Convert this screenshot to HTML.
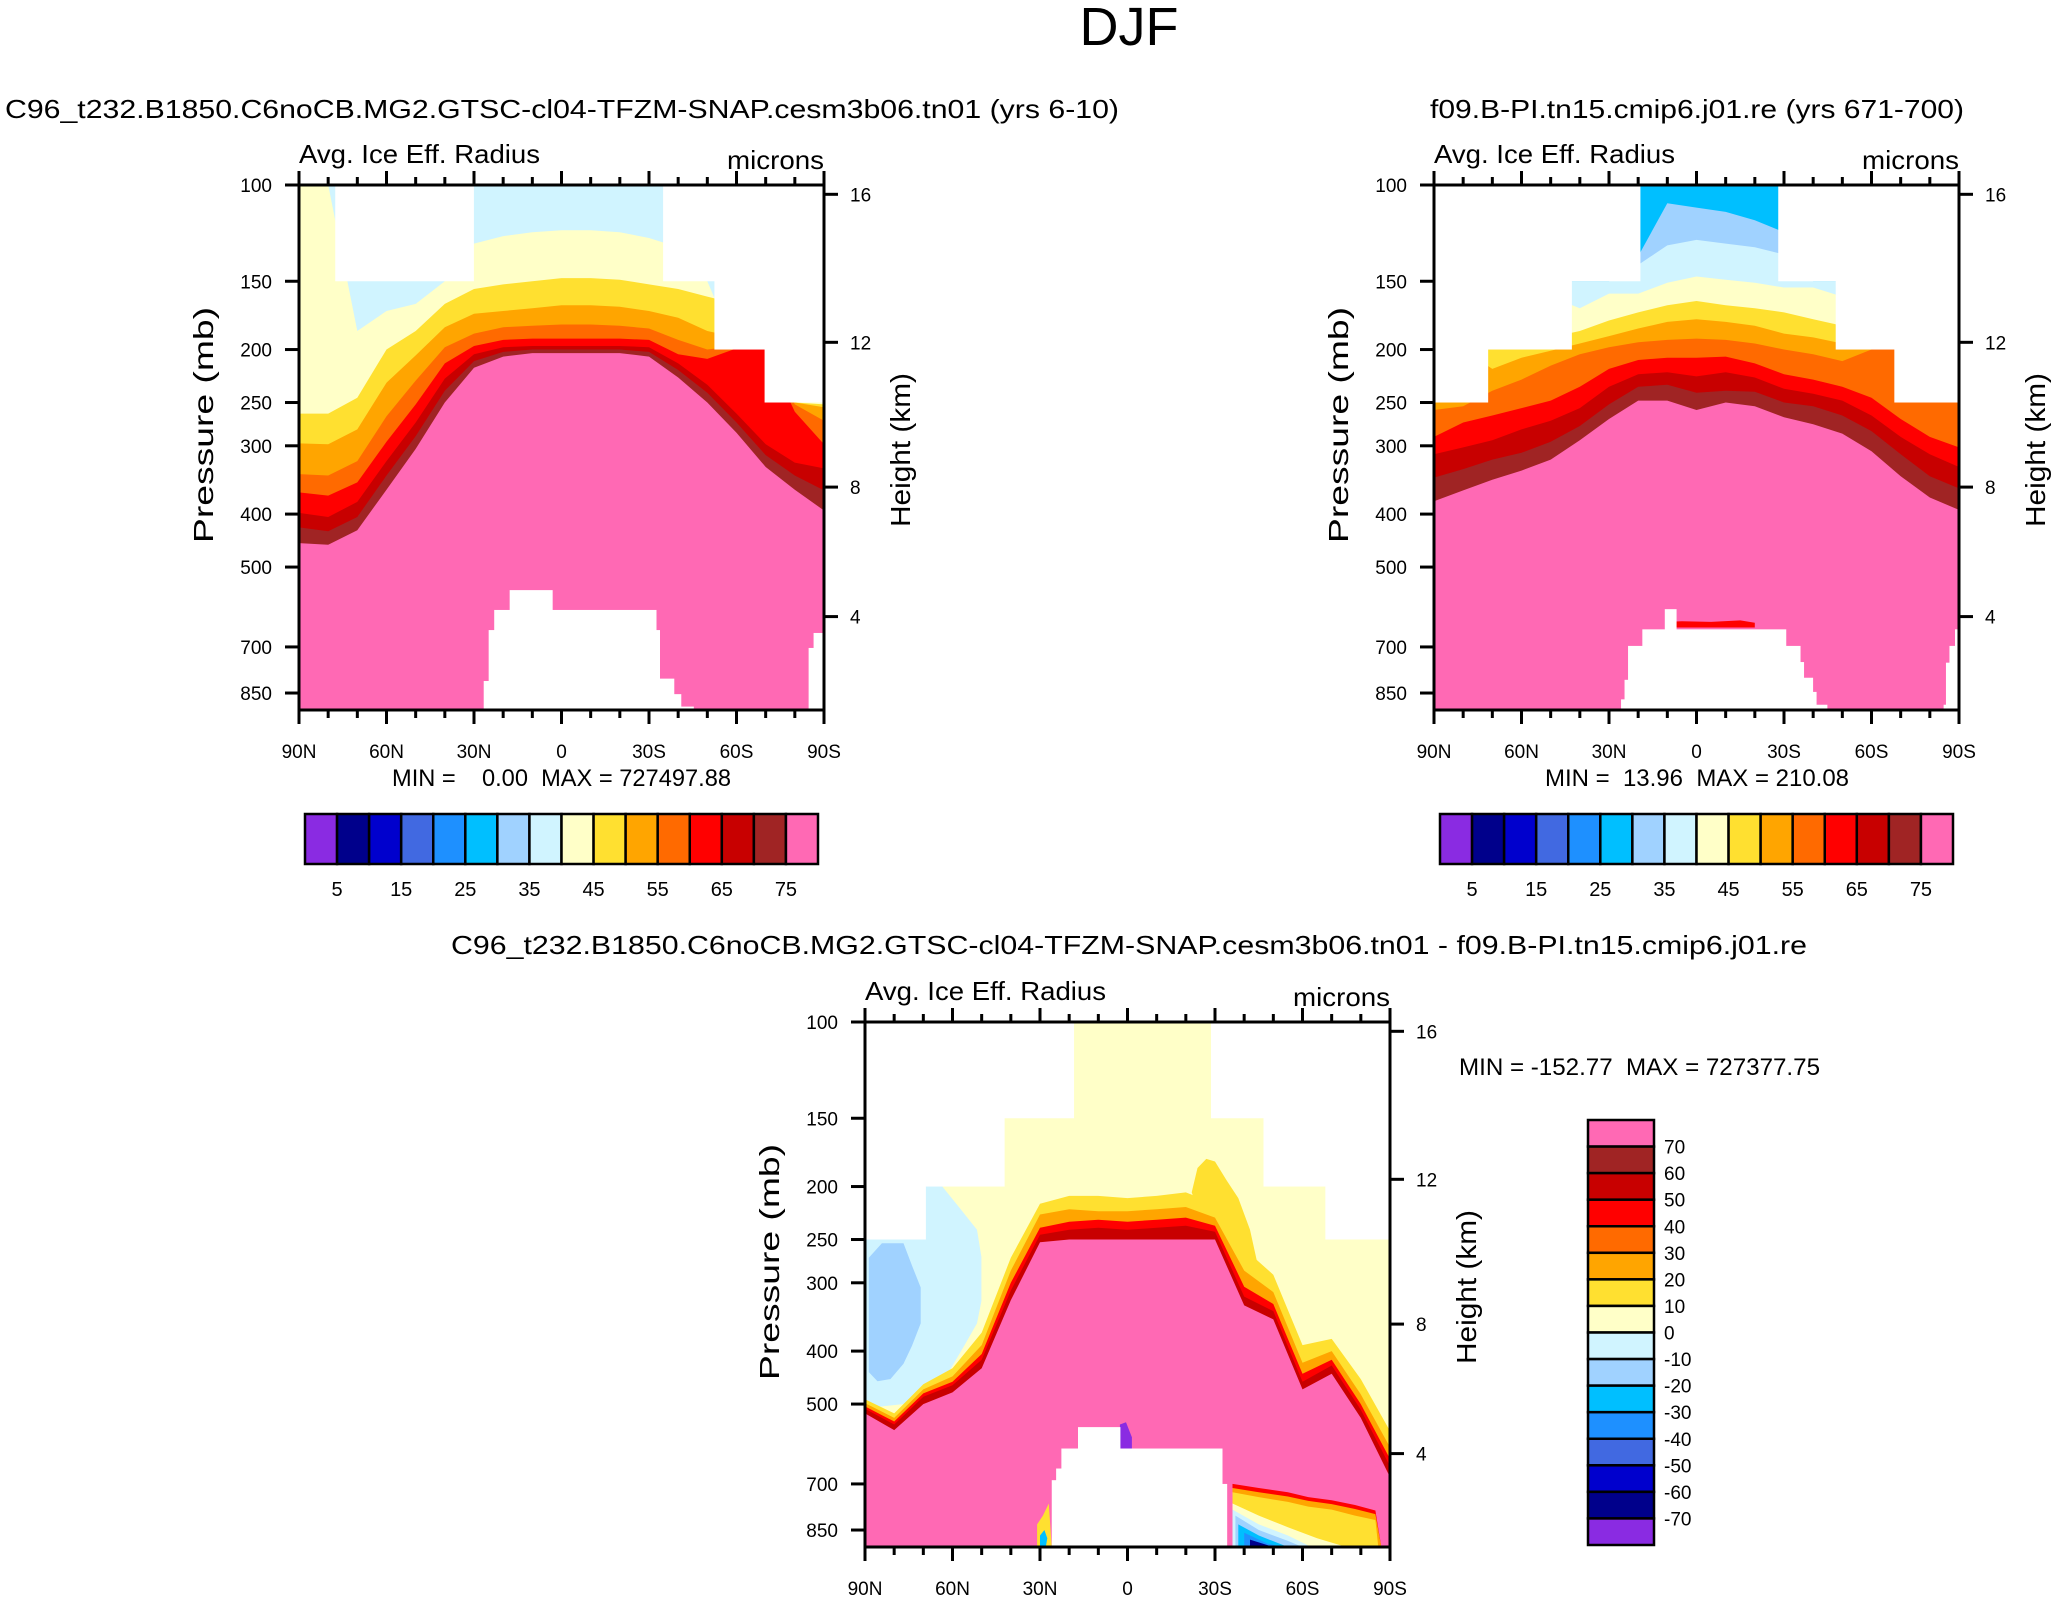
<!DOCTYPE html>
<html><head><meta charset="utf-8"><title>DJF Avg. Ice Eff. Radius</title>
<style>
html,body{margin:0;padding:0;background:#fff;}
svg{display:block;font-family:"Liberation Sans",Arial,sans-serif;}
</style></head>
<body>
<svg id="fig" xmlns="http://www.w3.org/2000/svg" width="2058" height="1599" viewBox="0 0 2058 1599">
<rect x="0" y="0" width="2058" height="1599" fill="#fff"/>
<text x="1129" y="45" font-size="54" text-anchor="middle">DJF</text>
<text x="562" y="118" font-size="26" text-anchor="middle" textLength="1114" lengthAdjust="spacingAndGlyphs">C96_t232.B1850.C6noCB.MG2.GTSC-cl04-TFZM-SNAP.cesm3b06.tn01 (yrs 6-10)</text>
<text x="1697" y="118" font-size="26" text-anchor="middle" textLength="534" lengthAdjust="spacingAndGlyphs">f09.B-PI.tn15.cmip6.j01.re (yrs 671-700)</text>
<text x="1129" y="954" font-size="26" text-anchor="middle" textLength="1356" lengthAdjust="spacingAndGlyphs">C96_t232.B1850.C6noCB.MG2.GTSC-cl04-TFZM-SNAP.cesm3b06.tn01 - f09.B-PI.tn15.cmip6.j01.re</text>
<text x="392" y="786" font-size="24" textLength="339" lengthAdjust="spacingAndGlyphs" xml:space="preserve">MIN =    0.00  MAX = 727497.88</text>
<text x="1545" y="786" font-size="24" textLength="304" lengthAdjust="spacingAndGlyphs" xml:space="preserve">MIN =  13.96  MAX = 210.08</text>
<text x="1459" y="1075" font-size="24" textLength="361" lengthAdjust="spacingAndGlyphs" xml:space="preserve">MIN = -152.77  MAX = 727377.75</text>
</svg>
<script>
// ---------------- data ----------------
const LATS = [90,80,70,60,50,40,30,20,10,0,-10,-20,-30,-40,-50,-60,-70,-80,-90];
const X_TICK_LATS = [90,60,30,0,-30,-60,-90];
const X_TICK_LABELS = ['90N','60N','30N','0','30S','60S','90S'];
const P_TICKS = [100,150,200,250,300,400,500,700,850];
const H_TICKS = [4,8,12,16];
const H_TICK_P = [616,357,194,104];
const CB_COLORS = ['#8a2be2','#00008b','#0000cd','#4169e1','#1e90ff','#00bfff','#a0d2ff','#d0f4ff','#ffffc8','#ffe030','#ffa500','#ff6a00','#ff0000','#c80000','#a02424','#ff69b4'];
const CB1_LABELS = ['5','15','25','35','45','55','65','75'];
const CB3_LABELS = ['70','60','50','40','30','20','10','0','-10','-20','-30','-40','-50','-60','-70'];

// panel 1 boundaries (pressure, mb, top edge of each colour band)
const P1_LY = [100,100,185,170,165,150,128,124,122,121,121,122,125,130,150,200,200,250,250];
const P1_YL = [262,262,245,200,185,165,155,152,150,148,148,149,152,155,160,165,200,250,252];
const P1_OR = [297,298,280,230,205,182,172,170,168,166,166,167,170,175,185,190,200,250,255];
const P1_DO = [338,340,320,265,228,198,187,182,181,180,180,181,183,192,200,197,200,252,270];
const P1_RD = [365,370,350,295,252,212,197,192,191,191,191,191,192,204,208,199,200,260,298];
const P1_DR = [398,405,380,320,272,226,204,198,197,197,197,197,198,212,232,262,298,322,330];
const P1_BR = [423,430,405,340,288,238,210,202,200,200,200,200,202,218,240,272,312,340,362];
const P1_PK = [452,455,428,361,304,250,216,206,203,203,203,203,206,225,250,284,328,361,394];
const P1_MASK = [[77.4,30.2,150],[-35,-52.6,150],[-52.6,-69.8,200],[-69.8,-90,250]];
const P1_TOPO = [[26.5,24.8,808],[24.8,22.9,652],[22.9,17.6,599],[17.6,3.2,551],[3.2,-32.4,599],[-32.4,-33.6,652],[-33.6,-38.5,800],[-38.5,-40.9,854],[-40.9,-45.2,900],[-84.9,-86.6,703],[-86.6,-90,660]];

// panel 2
const P2_LB = [250,200,200,200,150,150,150,135,108,110,112,116,122,150,150,200,200,250,250];
const P2_PC = [250,200,200,200,150,150,150,140,129,126,128,130,134,150,150,200,200,250,250];
const P2_LY = [250,200,200,200,160,168,158,158,151,147,149,151,154,154,160,200,200,250,250];
const P2_YL = [250,200,200,200,190,185,177,171,166,163,166,168,171,176,181,200,200,250,250];
const P2_OR = [250,200,217,207,201,195,189,183,178,176,178,181,187,190,195,200,200,250,250];
const P2_DO = [258,254,238,227,214,204,198,194,192,191,192,195,200,204,210,200,200,250,250];
const P2_RD = [289,272,264,256,248,234,217,209,207,207,206,212,222,227,234,245,268,289,302];
const P2_DR = [311,302,293,280,270,256,234,222,220,224,220,225,236,241,248,264,289,311,328];
const P2_BR = [343,331,318,309,295,276,252,234,232,240,238,239,250,254,264,282,311,341,359];
const P2_PK = [379,362,346,333,318,293,268,248,248,258,250,254,266,274,285,307,341,373,393];
const P2_MASK = [[90,71.6,250],[71.6,42.9,200],[42.9,19.4,150],[-28.2,-47.9,150],[-47.9,-68,200],[-68,-90,250]];
const P2_TOPO = [[25.7,24.5,873],[24.5,23.3,804],[23.3,18.4,697],[18.4,10.7,650],[10.7,7.0,597],[7.0,-30.6,650],[-30.6,-35.5,697],[-35.5,-36.7,746],[-36.7,-39.8,797],[-39.8,-41,846],[-41,-44.7,893],[-84.9,-85.7,893],[-85.7,-86.9,748],[-86.9,-88.8,697],[-88.8,-90,650]];

// panel 3 (difference)
const P3_YL = [490,520,460,430,370,270,215,208,208,210,208,205,215,260,290,390,380,450,560];
const P3_OR = [498,530,470,445,390,285,225,220,222,222,220,218,228,285,312,420,400,480,600];
const P3_RD = [505,538,478,455,405,300,238,232,230,232,230,228,236,305,328,440,415,500,630];
const P3_DR = [510,545,485,462,415,310,245,240,238,240,238,236,242,318,338,455,425,512,650];
const P3_PK = [520,558,500,476,430,323,253,250,250,250,250,250,250,330,350,470,440,530,680];
const P3_MASK = [[90,69.3,250],[69.3,42.3,200],[42.3,18.5,150],[-28.8,-46.8,150],[-46.8,-68,200],[-68,-90,250]];
const P3_TOPO = [[25.8,24.3,689],[24.3,22.5,656],[22.5,16.8,603],[16.8,2.6,551],[2.6,-32.4,603],[-32.4,-34,700]];
const P3_CYAN = [[90,250],[70.9,250],[70.9,200],[63.5,200],[57.5,219],[51.6,240],[50.1,269],[50.1,324],[51.6,356],[56,391],[60.5,430],[66.4,472],[75.3,499],[90,509]];
const P3_BLOB = [[88.7,270],[84.2,254],[76.8,254],[73.9,279],[70.9,306],[70.9,356],[73.9,391],[76.8,422],[81.3,450],[85.7,454],[88.7,437]];
const P3_YPATCH = [[-22,205],[-24,185],[-27,178],[-30,180],[-34,195],[-38,210],[-42,240],[-46,300],[-46,350],[-40,330],[-33,260],[-28,250]];
const P3_BR_RED = [[-36,700],[-45,712],[-55,725],[-62,740],[-70,750],[-78,765],[-85,783],[-87,913],[-36,913]];
const P3_BR_ORANGE = [[-36,712],[-45,725],[-55,738],[-62,752],[-70,762],[-78,778],[-85,795],[-87,913],[-36,913]];
const P3_BR_YELLOW = [[-36,725],[-45,740],[-55,755],[-62,770],[-70,780],[-78,800],[-85,815],[-86,913],[-36,913]];
const P3_BR_LY = [[-36,760],[-45,800],[-55,840],[-65,880],[-75,913],[-36,913]];
const P3_BR_PC = [[-36,780],[-45,830],[-55,870],[-63,913],[-36,913]];
const P3_BR_LB = [[-37,800],[-45,850],[-55,890],[-60,913],[-37,913]];
const P3_BR_DS = [[-38,830],[-45,870],[-55,913],[-38,913]];
const P3_BR_DB = [[-40,860],[-48,900],[-53,913],[-40,913]];
const P3_BR_NV = [[-42,885],[-50,913],[-42,913]];
const P3_LSTRIP = [[31,830],[29,800],[27,760],[26,913],[31,913]];
const P3_LSTRIP2 = [[30,870],[28.5,850],[27.5,880],[28,913],[30,913]];
const P3_PURPLE = [[2.6,545],[0.5,540],[-1.5,575],[-1.5,603],[2.6,603]];
const P2_REDLINE = [[10.7,630],[5,628],[-5,630],[-15,626],[-20,632],[-20,645],[10.7,645]];

// ---------------- drawing ----------------
const NS = 'http://www.w3.org/2000/svg';
const svg = document.getElementById('fig');
const W = 525, PBOT = 913;
function el(tag, parent){ const e = document.createElementNS(NS, tag); parent.appendChild(e); return e; }

function drawPanel(id, ox, oy, bg, layers, pre, post, mask, topo) {
  const xOf = lat => ox + (90 - lat) / 180 * W;
  const yOf = p => oy + Math.log(Math.min(Math.max(p,100),PBOT)/100) / Math.log(PBOT/100) * W;
  const g = el('g', svg);
  
  
  const cp = el('clipPath', g);
  cp.setAttribute('id', id + '-clip');
  const cr = el('rect', cp);
  cr.setAttribute('x', ox); cr.setAttribute('y', oy); cr.setAttribute('width', W); cr.setAttribute('height', W);
  const f = el('g', g);
  f.setAttribute('clip-path', 'url(#' + id + '-clip)');
  
  
  const b = el('rect', f);
  b.setAttribute('x', ox); b.setAttribute('y', oy); b.setAttribute('width', W); b.setAttribute('height', W); b.setAttribute('fill', bg);
  function poly(pts, color, name) {
    const pg = el('polygon', f);
    pg.setAttribute('points', pts.map(q => xOf(q[0]).toFixed(1) + ',' + yOf(q[1]).toFixed(1)).join(' '));
    pg.setAttribute('fill', color);
    
    
  }
  pre.forEach(e => poly(e.pts, e.color, e.name));
  layers.forEach(L => {
    const pts = LATS.map((lat, i) => [lat, L.vals[i]]);
    pts.push([-90, PBOT]); pts.push([90, PBOT]);
    poly(pts, L.color, L.name);
  });
  post.forEach(e => poly(e.pts, e.color, e.name));
  mask.forEach(m => {
    const r = el('rect', f);
    const x1 = xOf(m[0]), x2 = xOf(m[1]);
    r.setAttribute('x', x1 - 0.5); r.setAttribute('y', oy - 1); r.setAttribute('width', x2 - x1 + 1); r.setAttribute('height', yOf(m[2]) - oy + 1);
    r.setAttribute('fill', '#fff');
    
    
  });
  topo.forEach(m => {
    const r = el('rect', f);
    const x1 = xOf(m[0]), x2 = xOf(m[1]), y1 = yOf(m[2]);
    r.setAttribute('x', x1 - 0.5); r.setAttribute('y', y1); r.setAttribute('width', x2 - x1 + 1); r.setAttribute('height', oy + W - y1 + 1);
    r.setAttribute('fill', '#fff');
    
    
  });
  const fr = el('rect', g);
  fr.setAttribute('x', ox); fr.setAttribute('y', oy); fr.setAttribute('width', W); fr.setAttribute('height', W);
  fr.setAttribute('fill', 'none'); fr.setAttribute('stroke', '#000'); fr.setAttribute('stroke-width', '3');
  
  
  function line(x1,y1,x2,y2,name){
    const l = el('line', g);
    l.setAttribute('x1', x1); l.setAttribute('y1', y1); l.setAttribute('x2', x2); l.setAttribute('y2', y2);
    l.setAttribute('stroke', '#000'); l.setAttribute('stroke-width', '3');
    
    
  }
  function text(x,y,s,size,anchor,name){
    const t = el('text', g);
    t.setAttribute('x', x); t.setAttribute('y', y); t.setAttribute('font-size', size); t.setAttribute('text-anchor', anchor);
    t.textContent = s;
    
    
    return t;
  }
  for (let lat = 90; lat >= -90; lat -= 10) {
    const x = xOf(lat);
    const major = X_TICK_LATS.indexOf(lat) >= 0;
    const len = major ? 14 : 8;
    line(x, oy + W, x, oy + W + len, 'x-tick-bottom');
    line(x, oy, x, oy - len, 'x-tick-top');
  }
  X_TICK_LATS.forEach((lat, i) => text(xOf(lat), oy + W + 48, X_TICK_LABELS[i], 19, 'middle', 'x-tick-label'));
  P_TICKS.forEach(p => {
    const y = yOf(p);
    line(ox, y, ox - 14, y, 'pressure-tick');
    text(ox - 27, y + 7, String(p), 19, 'end', 'pressure-tick-label');
  });
  H_TICKS.forEach((h, i) => {
    const y = yOf(H_TICK_P[i]);
    line(ox + W, y, ox + W + 14, y, 'height-tick');
    text(ox + W + 26, y + 7, String(h), 19, 'start', 'height-tick-label');
  });
  const ft = text(ox, oy - 22, 'Avg. Ice Eff. Radius', 26, 'start', 'field-title');
  ft.setAttribute('textLength', '241'); ft.setAttribute('lengthAdjust', 'spacingAndGlyphs');
  const ut = text(ox + W, oy - 16, 'microns', 26, 'end', 'units-label');
  ut.setAttribute('textLength', '97'); ut.setAttribute('lengthAdjust', 'spacingAndGlyphs');
  const pt = text(0, 0, 'Pressure (mb)', 28, 'middle', 'y-axis-title');
  pt.setAttribute('transform', 'translate(' + (ox - 86) + ',' + (oy + 240) + ') rotate(-90)');
  pt.setAttribute('textLength', '236'); pt.setAttribute('lengthAdjust', 'spacingAndGlyphs');
  const ht = text(0, 0, 'Height (km)', 28, 'middle', 'y2-axis-title');
  ht.setAttribute('transform', 'translate(' + (ox + W + 86) + ',' + (oy + 265) + ') rotate(-90)');
  ht.setAttribute('textLength', '154'); ht.setAttribute('lengthAdjust', 'spacingAndGlyphs');
}

const C = {lb:'#a0d2ff', pc:'#d0f4ff', ly:'#ffffc8', yl:'#ffe030', or:'#ffa500', do:'#ff6a00', rd:'#ff0000', dr:'#c80000', br:'#a02424', pk:'#ff69b4', ds:'#00bfff', db:'#1e90ff', nv:'#00008b', pu:'#8a2be2'};

drawPanel('panel1', 299, 185, C.pc, [
  {color:C.ly, vals:P1_LY, name:'band-40-45'},
  {color:C.yl, vals:P1_YL, name:'band-45-50'},
  {color:C.or, vals:P1_OR, name:'band-50-55'},
  {color:C.do, vals:P1_DO, name:'band-55-60'},
  {color:C.rd, vals:P1_RD, name:'band-60-65'},
  {color:C.dr, vals:P1_DR, name:'band-65-70'},
  {color:C.br, vals:P1_BR, name:'band-70-75'},
  {color:C.pk, vals:P1_PK, name:'band-above-75'}
], [{pts:[[87,100],[80,100],[80,125],[82,130],[85,128],[87,115]], color:C.yl, name:'yellow-patch'}], [], P1_MASK, P1_TOPO);

drawPanel('panel2', 1434, 185, C.ds, [
  {color:C.lb, vals:P2_LB, name:'band-30-35'},
  {color:C.pc, vals:P2_PC, name:'band-35-40'},
  {color:C.ly, vals:P2_LY, name:'band-40-45'},
  {color:C.yl, vals:P2_YL, name:'band-45-50'},
  {color:C.or, vals:P2_OR, name:'band-50-55'},
  {color:C.do, vals:P2_DO, name:'band-55-60'},
  {color:C.rd, vals:P2_RD, name:'band-60-65'},
  {color:C.dr, vals:P2_DR, name:'band-65-70'},
  {color:C.br, vals:P2_BR, name:'band-70-75'},
  {color:C.pk, vals:P2_PK, name:'band-above-75'}
], [], [{pts:P2_REDLINE, color:C.rd, name:'topo-edge-line'}], P2_MASK, P2_TOPO);

drawPanel('panel3', 865, 1022, C.ly, [
  {color:C.yl, vals:P3_YL, name:'band-10-20'},
  {color:C.or, vals:P3_OR, name:'band-20-30'},
  {color:C.rd, vals:P3_RD, name:'band-40-50'},
  {color:C.dr, vals:P3_DR, name:'band-50-60'},
  {color:C.pk, vals:P3_PK, name:'band-above-70'}
], [
  {pts:P3_CYAN, color:C.pc, name:'negative-region'},
  {pts:P3_BLOB, color:C.lb, name:'negative-blob'},
  {pts:P3_YPATCH, color:C.yl, name:'yellow-patch'}
], [
  {pts:P3_BR_RED, color:C.rd, name:'lower-band-red'},
  {pts:P3_BR_ORANGE, color:C.or, name:'lower-band-orange'},
  {pts:P3_BR_YELLOW, color:C.yl, name:'lower-band-yellow'},
  {pts:P3_BR_LY, color:C.ly, name:'lower-band-lightyellow'},
  {pts:P3_BR_PC, color:C.pc, name:'lower-band-palecyan'},
  {pts:P3_BR_LB, color:C.lb, name:'lower-band-lightblue'},
  {pts:P3_BR_DS, color:C.ds, name:'lower-band-deepsky'},
  {pts:P3_BR_DB, color:C.db, name:'lower-band-dodger'},
  {pts:P3_BR_NV, color:C.nv, name:'lower-band-navy'},
  {pts:P3_LSTRIP, color:C.yl, name:'left-strip'},
  {pts:P3_LSTRIP2, color:C.ds, name:'left-strip-blue'},
  {pts:P3_PURPLE, color:C.pu, name:'purple-spot'}
], P3_MASK, P3_TOPO);

function hbar(id, x0, y0, w, h) {
  const g = el('g', svg);
  
  
  const bw = w / CB_COLORS.length;
  CB_COLORS.forEach((c, i) => {
    const r = el('rect', g);
    r.setAttribute('x', x0 + i*bw); r.setAttribute('y', y0); r.setAttribute('width', bw); r.setAttribute('height', h);
    r.setAttribute('fill', c); r.setAttribute('stroke', '#000'); r.setAttribute('stroke-width', '2.5');
    
    
  });
  CB1_LABELS.forEach((s, i) => {
    const t = el('text', g);
    t.setAttribute('x', x0 + (2*i + 1)*bw); t.setAttribute('y', y0 + h + 32); t.setAttribute('font-size', 20); t.setAttribute('text-anchor', 'middle');
    t.textContent = s;
    
    
  });
}
hbar('panel1-colorbar', 305, 814, 513, 50);
hbar('panel2-colorbar', 1440, 814, 513, 50);

(function(){
  const g = el('g', svg);
  
  
  const x0 = 1588, y0 = 1120, w = 66, h = 425;
  const bh = h / CB_COLORS.length;
  const rev = CB_COLORS.slice().reverse();
  rev.forEach((c, i) => {
    const r = el('rect', g);
    r.setAttribute('x', x0); r.setAttribute('y', y0 + i*bh); r.setAttribute('width', w); r.setAttribute('height', bh);
    r.setAttribute('fill', c); r.setAttribute('stroke', '#000'); r.setAttribute('stroke-width', '2.5');
    
    
  });
  CB3_LABELS.forEach((s, i) => {
    const t = el('text', g);
    t.setAttribute('x', 1664); t.setAttribute('y', y0 + (i+1)*bh + 7); t.setAttribute('font-size', 19); t.setAttribute('text-anchor', 'start');
    t.textContent = s;
    
    
  });
})();
</script>
</body></html>
